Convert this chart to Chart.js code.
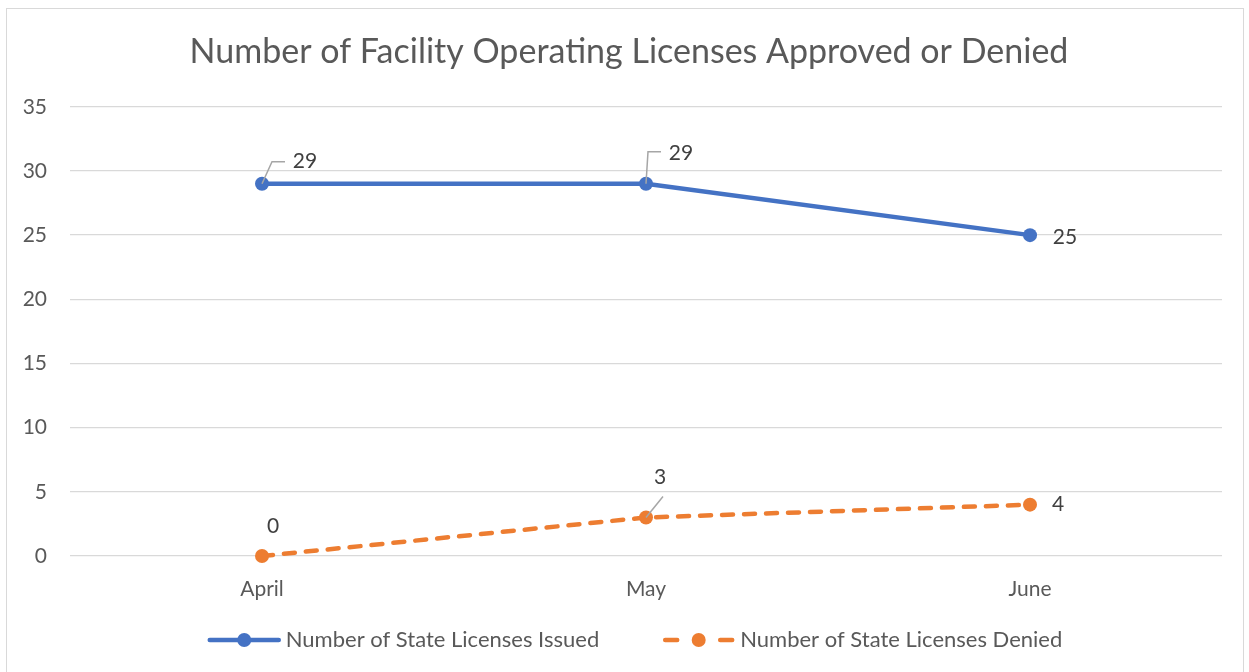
<!DOCTYPE html>
<html>
<head>
<meta charset="utf-8">
<title>Facility Operating Licenses</title>
<script src="https://cdn.jsdelivr.net/npm/chart.js@4.4.1/dist/chart.umd.min.js"></script>
<style>
  html, body { margin: 0; padding: 0; background: #fff; }
  #wrap { width: 1249px; height: 672px; }
</style>
</head>
<body>
<div id="wrap"><canvas id="myChart" width="1249" height="672"></canvas></div>
<script>
// Chart data
const categories = ["April", "May", "June"];
const issued = [29, 29, 25];
const denied = [0, 3, 4];
const seriesNames = ["Number of State Licenses Issued", "Number of State Licenses Denied"];
const yMax = 35;
const yStep = 5;

const textColor = "#595959";
const fontFamily = "Lato, 'Open Sans', sans-serif";

// White background + thin outer frame like the Excel chart box
const frame = {
    id: "frame",
    beforeDraw(chart) {
        const ctx = chart.ctx;
        ctx.save();
        ctx.fillStyle = "#fff";
        ctx.fillRect(0, 0, chart.width, chart.height);
        ctx.strokeStyle = "#d9d9d9";
        ctx.lineWidth = 1;
        ctx.strokeRect(6.5, 8.5, chart.width - 12, chart.height + 20);
        ctx.restore();
    },
    // let the y tick labels spill into the left padding (title stays centred like Excel)
    afterLayout(chart) {
        chart.scales.y.left = 0;
    }
};

// Value labels next to each point, some with leader lines
const dataLabels = {
    id: "dataLabels",
    afterDatasetsDraw(chart, args, opts) {
        const ctx = chart.ctx;
        ctx.save();
        ctx.font = "21px " + fontFamily;
        ctx.fillStyle = "#404040";
        ctx.textAlign = "center";
        ctx.textBaseline = "middle";
        chart.data.datasets.forEach((ds, i) => {
            const meta = chart.getDatasetMeta(i);
            meta.data.forEach((pt, j) => {
                const p = opts.placement[i][j];
                if (p.leader) {
                    ctx.strokeStyle = "#a6a6a6";
                    ctx.lineWidth = 1.5;
                    ctx.beginPath();
                    ctx.moveTo(pt.x, pt.y);
                    p.leader.forEach(([lx, ly]) => ctx.lineTo(pt.x + lx, pt.y + ly));
                    ctx.stroke();
                }
                ctx.fillText(String(ds.data[j]), pt.x + p.dx, pt.y + p.dy);
            });
        });
        ctx.restore();
    }
};

// Legend drawn with line + marker icons (Excel style)
const lineLegend = {
    id: "lineLegend",
    afterDraw(chart, args, opts) {
        const ctx = chart.ctx;
        const iconW = 73, textGap = 5, itemGap = 63;
        ctx.save();
        ctx.font = "22px " + fontFamily;
        const items = chart.data.datasets.map(ds => ({ ds, w: ctx.measureText(ds.label).width }));
        let total = items.reduce((s, it) => s + iconW + textGap + it.w, 0) + itemGap * (items.length - 1);
        let x = opts.center - total / 2;
        const y = opts.y;
        items.forEach(it => {
            const ds = it.ds;
            ctx.strokeStyle = ds.borderColor;
            ctx.lineWidth = ds.borderWidth;
            ctx.lineCap = "round";
            ctx.beginPath();
            if (ds.borderDash) {
                ctx.moveTo(x + 3, y); ctx.lineTo(x + 15, y);
                ctx.moveTo(x + iconW - 15, y); ctx.lineTo(x + iconW - 3, y);
            } else {
                ctx.moveTo(x + 2, y); ctx.lineTo(x + iconW - 2, y);
            }
            ctx.stroke();
            ctx.fillStyle = ds.borderColor;
            ctx.beginPath();
            ctx.arc(x + iconW / 2, y, 7, 0, Math.PI * 2);
            ctx.fill();
            ctx.fillStyle = textColor;
            ctx.textBaseline = "middle";
            ctx.textAlign = "left";
            ctx.fillText(ds.label, x + iconW + textGap, y);
            x += iconW + textGap + it.w + itemGap;
        });
        ctx.restore();
    }
};

Chart.defaults.font.family = fontFamily;
Chart.defaults.color = textColor;

const config = {
    type: "line",
    data: {
        labels: categories,
        datasets: [
            {
                label: seriesNames[0],
                data: issued,
                borderColor: "#4472C4",
                backgroundColor: "#4472C4",
                borderWidth: 4.5,
                pointRadius: 7,
                pointHoverRadius: 7,
                pointBorderWidth: 0,
                tension: 0,
                clip: false,
                fill: false
            },
            {
                label: seriesNames[1],
                data: denied,
                borderColor: "#ED7D31",
                backgroundColor: "#ED7D31",
                borderWidth: 4.5,
                borderDash: [11, 11],
                borderCapStyle: "round",
                pointRadius: 7,
                pointHoverRadius: 7,
                pointBorderWidth: 0,
                tension: 0,
                clip: false,
                fill: false
            }
        ]
    },
    options: {
        responsive: false,
        animation: false,
        layout: { padding: { left: 36, right: 27, top: 0, bottom: 51 } },
        plugins: {
            legend: { display: false },
            tooltip: { enabled: false },
            title: {
                display: true,
                text: "Number of Facility Operating Licenses Approved or Denied",
                color: textColor,
                font: { size: 34, weight: "normal" },
                padding: { top: 32, bottom: 34 }
            },
            dataLabels: {
                placement: [
                    [
                        { dx: 43, dy: -23, leader: [[10, -22], [23, -22]] },
                        { dx: 35, dy: -31, leader: [[2, -32], [15, -32]] },
                        { dx: 35, dy: 2 }
                    ],
                    [
                        { dx: 11, dy: -30 },
                        { dx: 14, dy: -40, leader: [[17, -21]] },
                        { dx: 28, dy: 0 }
                    ]
                ]
            },
            lineLegend: { y: 640, center: 635 }
        },
        scales: {
            x: {
                offset: true,
                grid: { display: false, drawTicks: false },
                border: { display: false },
                ticks: { color: textColor, font: { size: 21 }, padding: 21 },
                afterFit(scale) { scale.height = 65; }
            },
            y: {
                min: 0,
                max: yMax,
                grid: { color: "#d9d9d9", lineWidth: 1.3, drawTicks: false },
                border: { display: false },
                ticks: { stepSize: yStep, color: textColor, font: { size: 21 }, padding: 23 },
                afterFit(scale) { scale.width = 34; }
            }
        }
    },
    plugins: [frame, dataLabels, lineLegend]
};

var myChart = new Chart(document.getElementById("myChart"), config);
</script>
</body>
</html>
